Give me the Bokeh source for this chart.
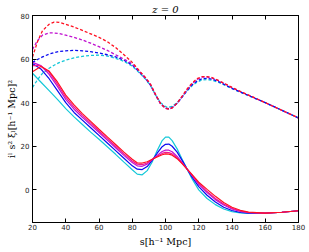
from bokeh.plotting import figure
from bokeh.models import Range1d, LinearAxis, FixedTicker, CustomJSTickFormatter
from bokeh.embed import file_html
from bokeh.resources import INLINE

# ---- data ----
s_solid = [20, 25, 30, 35, 40, 45, 50, 55, 60, 65, 70, 75, 80,
           83, 86, 89, 92, 95, 98, 100, 102, 104, 107, 110, 113, 116,
           120, 125, 130, 135, 140, 145, 150, 160, 170, 180]
solid_cyan = [53.5, 49.5, 45.5, 41.5, 37.3, 33.5, 30, 26.5, 23.2, 19.8, 16.3, 12.7, 9.2,
              7.2, 6.9, 8.8, 12.8, 18, 22.6, 24.2, 24.2, 22.6, 18.8, 14, 9.5, 5,
              0, -4, -6.8, -8.8, -10, -10.6, -10.8, -10.7, -10.3, -9.6]
solid_blue = [58, 55.5, 51, 45.5, 40, 35.5, 32, 28.5, 25, 21.5, 18, 14.5, 11,
              9.5, 9.3, 10.7, 13.5, 16.8, 19.8, 20.9, 21, 20, 17.3, 13.5, 9.5, 5.8,
              1.5, -2.5, -5.6, -8, -9.5, -10.4, -10.7, -10.7, -10.3, -9.6]
solid_magenta = [58.5, 57, 53, 47.5, 41.5, 37, 33.3, 29.8, 26.3, 22.8, 19.3, 15.8, 12.5,
                 11, 10.8, 11.8, 13.8, 15.8, 17.6, 18.2, 18.2, 17.5, 15.3, 12.5, 9.5, 6.5,
                 2.5, -1.3, -4.5, -7, -8.8, -9.9, -10.5, -10.7, -10.3, -9.6]
solid_pink = [57, 57, 54, 48.5, 42.5, 38, 34.2, 30.6, 27, 23.5, 20, 16.5, 13.2,
              11.8, 11.6, 12.3, 13.9, 15.4, 16.7, 17.2, 17.1, 16.5, 14.7, 12.2, 9.5, 6.8,
              3, -0.8, -4, -6.5, -8.5, -9.7, -10.4, -10.7, -10.3, -9.6]
solid_red = [54.2, 56.6, 54.5, 49.5, 43.5, 39, 35, 31.4, 27.8, 24.3, 20.8, 17.3, 14,
             12.4, 12.3, 12.9, 14, 15.1, 16.1, 16.5, 16.4, 15.9, 14.3, 12, 9.5, 7,
             3.5, 0.2, -3, -5.8, -8, -9.4, -10.2, -10.7, -10.3, -9.6]

s_dash = [20, 23, 26, 30, 33, 36, 40, 45, 50, 55, 60, 65, 70, 75, 80,
          85, 88, 91, 94, 97, 100, 102, 104, 107, 110,
          113, 116, 119, 122, 125, 128, 131, 135, 140, 145,
          150, 160, 170, 180]
dash_red = [61, 68, 73, 76, 77, 76.9, 76, 74.7, 73.2, 71.6, 70, 68, 65.3, 62, 58.5,
            54, 51.5, 48.5, 43.8, 39.6, 37.4, 37, 37.6, 39.8, 43,
            46.3, 49, 51, 52, 52, 51.5, 50.5, 49, 47, 45.2,
            43.5, 40, 36.5, 33]
dash_magenta = [64.5, 68.5, 71, 72, 72, 71.8, 71, 70, 68.8, 67.3, 65.7, 64, 62, 60, 57.8,
                53.8, 51.3, 48.3, 43.6, 39.5, 37.4, 37, 37.6, 39.7, 42.8,
                46, 48.7, 50.7, 51.7, 51.8, 51.3, 50.4, 48.9, 46.9, 45.1,
                43.4, 40, 36.5, 33]
dash_blue = [58.5, 59.8, 61, 62.3, 63, 63.5, 63.8, 64, 63.8, 63.4, 62.8, 62, 61, 59.5, 57.3,
             53.5, 51, 48, 43.5, 39.6, 37.6, 37.3, 37.8, 39.7, 42.6,
             45.6, 48.2, 50, 51, 51.2, 50.8, 50, 48.5, 46.6, 44.9,
             43.3, 40, 36.5, 33]
dash_cyan = [47, 50.5, 53.5, 55.8, 57.2, 58.4, 59.5, 60.6, 61.3, 61.7, 61.8, 61.4, 60.4, 59, 56.8,
             53.2, 50.8, 47.8, 43.6, 40, 38.2, 37.9, 38.3, 40, 42.6,
             45.4, 47.8, 49.5, 50.4, 50.6, 50.3, 49.6, 48.3, 46.4, 44.8,
             43.2, 40, 36.5, 33]

x_ticks = [20, 40, 60, 80, 100, 120, 140, 160, 180]
y_ticks = [0, 20, 40, 60, 80]

# ---- figure ----
p = figure(width=309, height=252, x_range=Range1d(20, 180), y_range=Range1d(-15, 80.02),
           output_backend="svg", toolbar_location=None, title="z = 0",
           min_border_left=32, min_border_right=11, min_border_top=15, min_border_bottom=30)
p.grid.visible = False
p.outline_line_color = "black"
p.outline_line_width = 1
p.background_fill_color = "white"
p.border_fill_color = "white"

p.title.align = "center"
p.title.text_font = "DejaVu Serif"
p.title.text_font_style = "italic"
p.title.text_font_size = "10px"
p.title.text_color = "black"
p.title.standoff = 1

C_CYAN = "#14c8d8"
C_BLUE = "#0a0af0"
C_MAG = "#c010d0"
C_PINK = "#f01890"
C_RED = "#ff1020"

dash = "3 2"
p.line(s_dash, dash_cyan, line_color=C_CYAN, line_width=1.3, line_dash=dash)
p.line(s_dash, dash_blue, line_color=C_BLUE, line_width=1.3, line_dash=dash)
p.line(s_dash, dash_magenta, line_color=C_MAG, line_width=1.3, line_dash=dash)
p.line(s_dash, dash_red, line_color=C_RED, line_width=1.3, line_dash=dash)

p.line(s_solid, solid_cyan, line_color=C_CYAN, line_width=1.2)
p.line(s_solid, solid_blue, line_color=C_BLUE, line_width=1.2)
p.line(s_solid, solid_magenta, line_color=C_MAG, line_width=1.2)
p.line(s_solid, solid_pink, line_color=C_PINK, line_width=1.2)
p.line(s_solid, solid_red, line_color=C_RED, line_width=1.2)

def style(ax, labels=True):
    ax.major_tick_in = 4
    ax.major_tick_out = 0
    ax.minor_tick_in = 0
    ax.minor_tick_out = 0
    ax.axis_line_color = "black"
    ax.major_tick_line_color = "black"
    ax.major_label_text_font = "DejaVu Sans"
    ax.major_label_text_font_size = "7px"
    ax.major_label_text_color = "#222222"
    if not labels:
        ax.formatter = CustomJSTickFormatter(code="return ''")
        ax.major_label_standoff = 0

p.xaxis.ticker = FixedTicker(ticks=x_ticks)
p.yaxis.ticker = FixedTicker(ticks=y_ticks)
style(p.xaxis[0])
style(p.yaxis[0])
p.xaxis.major_label_standoff = 1
p.yaxis.major_label_standoff = 3

p.xaxis.axis_label = "s[h⁻¹ Mpc]"
p.yaxis.axis_label = "iˡ s² ξₗ[h⁻¹ Mpc]²"
for ax in (p.xaxis[0], p.yaxis[0]):
    ax.axis_label_text_font = "DejaVu Serif"
    ax.axis_label_text_font_style = "normal"
    ax.axis_label_text_font_size = "9.5px"
    ax.axis_label_text_color = "black"
p.xaxis.axis_label_standoff = 3
p.yaxis.axis_label_standoff = 1

top = LinearAxis(ticker=FixedTicker(ticks=x_ticks))
right = LinearAxis(ticker=FixedTicker(ticks=y_ticks))
style(top, labels=False)
style(right, labels=False)
p.add_layout(top, "above")
p.add_layout(right, "right")

open("out.html", "w").write(file_html(p, INLINE))
